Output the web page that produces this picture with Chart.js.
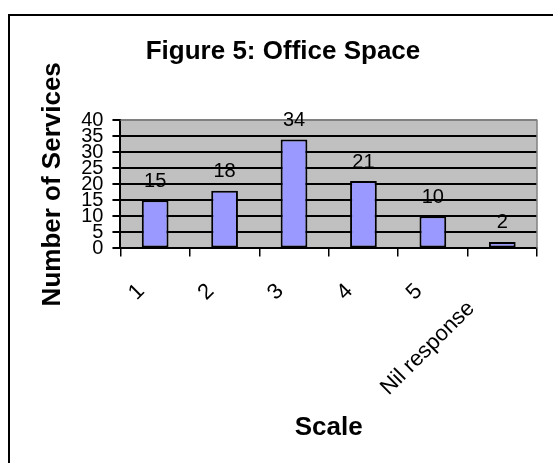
<!DOCTYPE html>
<html>
<head>
<meta charset="utf-8">
<script src="https://cdn.jsdelivr.net/npm/chart.js@4"></script>
<style>
  html, body { margin: 0; padding: 0; background: #fff; }
  #wrap { width: 553px; height: 463px; position: relative; }
</style>
</head>
<body>
<div id="wrap"><canvas id="c" width="553" height="463"></canvas></div>
<script>
// Office space ratings: number of services per scale point
const categories = ['1', '2', '3', '4', '5', 'Nil response'];
const services = [15, 18, 34, 21, 10, 2];
const yTicks = { min: 0, max: 40, step: 5 };

const FONT = '"Liberation Sans", Arial, sans-serif';

// Grey plot background, frame around the figure and the value labels
const decorations = {
  id: 'decorations',
  beforeDraw(chart) {
    const { ctx, chartArea: a } = chart;
    ctx.save();
    ctx.fillStyle = '#ffffff';
    ctx.fillRect(0, 0, chart.width, chart.height);
    ctx.fillStyle = '#c0c0c0';
    ctx.fillRect(a.left, a.top, a.right - a.left, a.bottom - a.top);
    ctx.strokeStyle = '#000';
    ctx.lineWidth = 2;
    ctx.strokeRect(9, 15, chart.width + 20, chart.height + 20);
    ctx.restore();
  },
  afterDatasetsDraw(chart) {
    const { ctx, chartArea: a } = chart;
    ctx.save();
    // plot frame: top and right edges in grey
    ctx.strokeStyle = '#808080';
    ctx.lineWidth = 1.5;
    ctx.beginPath();
    ctx.moveTo(a.left, a.top);
    ctx.lineTo(a.right, a.top);
    ctx.lineTo(a.right, a.bottom);
    ctx.stroke();
    // value labels above bars
    const meta = chart.getDatasetMeta(0);
    ctx.fillStyle = '#000';
    ctx.font = '20px ' + FONT;
    ctx.textAlign = 'center';
    ctx.textBaseline = 'middle';
    meta.data.forEach((bar, i) => {
      ctx.fillText(String(services[i]), bar.x, bar.y - 19);
    });
    ctx.restore();
  }
};

Chart.defaults.color = '#000';
Chart.defaults.font.family = FONT;

new Chart(document.getElementById('c'), {
  type: 'bar',
  data: {
    labels: categories,
    datasets: [{
      data: services,
      backgroundColor: '#9999ff',
      borderColor: '#000',
      borderWidth: 2,
      borderSkipped: false,
      categoryPercentage: 1,
      barPercentage: 0.385
    }]
  },
  options: {
    responsive: false,
    animation: false,
    layout: { padding: { left: 29, right: 16, top: 0, bottom: 0 } },
    plugins: {
      legend: { display: false },
      tooltip: { enabled: false },
      title: {
        display: true,
        text: 'Figure 5: Office Space',
        color: '#000',
        font: { size: 26, weight: 'bold', family: FONT },
        padding: { top: 36, bottom: 53 }
      }
    },
    scales: {
      x: {
        grid: {
          offset: true,
          drawOnChartArea: false,
          drawTicks: true,
          tickLength: 8,
          color: '#000',
          lineWidth: 1.5
        },
        border: { display: true, color: '#000', width: 2 },
        ticks: {
          minRotation: 45,
          maxRotation: 45,
          autoSkip: false,
          padding: 22,
          labelOffset: -14,
          color: '#000',
          font: { size: 22, family: FONT },
          callback: (v, i) => i === categories.length - 1 ? categories[i] + '    ' : categories[i]
        },
        title: {
          display: true,
          text: 'Scale',
          color: '#000',
          font: { size: 26, weight: 'bold', family: FONT },
          padding: { top: -11, bottom: 20 }
        }
      },
      y: {
        min: yTicks.min,
        max: yTicks.max,
        grid: {
          color: (c) => (c.tick && c.tick.value === yTicks.max) ? '#808080' : '#000',
          tickColor: '#000',
          lineWidth: 2,
          tickLength: 8
        },
        border: { display: true, color: '#000', width: 2 },
        ticks: {
          stepSize: yTicks.step,
          autoSkip: false,
          padding: 9,
          color: '#000',
          font: { size: 20, family: FONT }
        },
        title: {
          display: true,
          text: 'Number of Services',
          color: '#000',
          font: { size: 26, weight: 'bold', family: FONT },
          padding: { top: 8, bottom: 4 }
        }
      }
    }
  },
  plugins: [decorations]
});
</script>
</body>
</html>
